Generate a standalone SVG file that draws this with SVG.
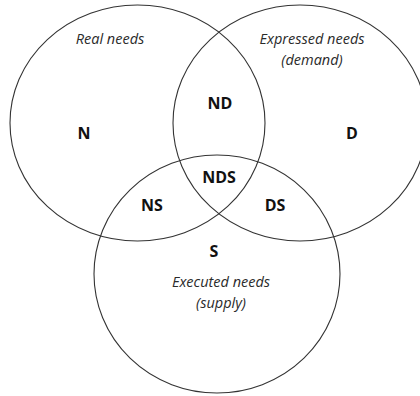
<svg xmlns="http://www.w3.org/2000/svg" width="420" height="396" viewBox="0 0 420 396">
<style>
.c{fill:none;stroke:#333;stroke-width:1.1}
.i{font-family:"Open Sans","Liberation Sans",sans-serif;font-style:italic;font-size:14.5px;fill:#2a2a2a;text-anchor:middle}
.b{font-family:"Open Sans","Liberation Sans",sans-serif;font-weight:bold;font-size:16px;fill:#111;text-anchor:middle}
</style>
<rect width="420" height="396" fill="#fff"/>
<g id="connectors"/>
<g id="circle-N"><ellipse class="c" cx="137.5" cy="123" rx="127.5" ry="118"/></g>
<g id="circle-D"><ellipse class="c" cx="300" cy="123" rx="127" ry="118"/></g>
<g id="circle-S"><ellipse class="c" cx="217" cy="274" rx="123" ry="119"/></g>
<g id="label-real"><text class="i" x="110" y="44">Real needs</text></g>
<g id="label-expressed"><text class="i" x="312" y="44">Expressed needs</text><text class="i" x="312" y="65">(demand)</text></g>
<g id="label-executed"><text class="i" x="221" y="287">Executed needs</text><text class="i" x="221" y="308">(supply)</text></g>
<g id="N"><text class="b" x="84" y="139">N</text></g>
<g id="D"><text class="b" x="352" y="139">D</text></g>
<g id="ND"><text class="b" x="220" y="109">ND</text></g>
<g id="NDS"><text class="b" x="219" y="183">NDS</text></g>
<g id="NS"><text class="b" x="152" y="211">NS</text></g>
<g id="DS"><text class="b" x="275" y="211">DS</text></g>
<g id="S"><text class="b" x="214" y="257">S</text></g>
</svg>
